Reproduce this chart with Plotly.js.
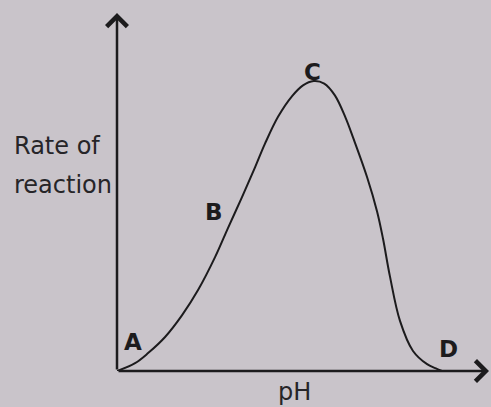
<!DOCTYPE html>
<html>
<head>
<meta charset="utf-8">
<script src="https://cdn.plot.ly/plotly-3.0.1.min.js"></script>
<style>
  html, body { margin: 0; padding: 0; background: #c9c4ca; }
  #chart { width: 491px; height: 407px; }
</style>
</head>
<body>
<div id="chart"></div>
<script>
// curve: pH (x) against rate of reaction (y, arbitrary 0-100)
const phValues = [0, 0.68, 1.17, 1.81, 2.45, 3.05, 3.69, 4.18, 4.70, 5.19, 5.57, 6.06, 6.59, 7.0, 7.4,
                  7.8, 8.2, 8.6, 8.9, 9.41, 9.79, 10.01, 10.27, 10.65, 11.14, 11.67, 12.04, 12.23];
const rateValues = [0, 2.2, 5.0, 9.5, 15.6, 22.6, 31.8, 40.0, 48.5, 56.8, 63.5, 71.0, 76.8, 79.8, 81.0,
                    80.3, 77.0, 70.8, 64.9, 54.2, 44.5, 37.0, 26.5, 14.0, 5.6, 1.9, 0.6, 0];
const pointLabels = ['A', 'B', 'C', 'D'];
const yTitleLines = ['Rate of', 'reaction'];
const xTitle = 'pH';

const xMax = 14;
const yMax = 100;
const ink = '#1c1b1d';
const font = 'DejaVu Sans, sans-serif';

// where each letter sits, in data units
const labelX = [0.6, 3.65, 7.34, 12.46];
const labelY = [8.1, 44.4, 83.5, 6.1];

function build_annotations() {
    const notes = [];

    // the two axes, drawn as arrows from the origin
    notes.push({
        x: xMax, y: 0, ax: 0, ay: 0, xref: 'x', yref: 'y', axref: 'x', ayref: 'y',
        text: '', showarrow: true, arrowhead: 4, arrowsize: 1.6, arrowwidth: 2.5, arrowcolor: ink
    });
    notes.push({
        x: 0, y: yMax, ax: 0, ay: 0, xref: 'x', yref: 'y', axref: 'x', ayref: 'y',
        text: '', showarrow: true, arrowhead: 4, arrowsize: 1.6, arrowwidth: 2.5, arrowcolor: ink
    });

    // point letters
    pointLabels.forEach(function(label, i) {
        notes.push({
            x: labelX[i], y: labelY[i], xref: 'x', yref: 'y',
            text: '<b>' + label + '</b>', showarrow: false,
            font: { family: font, size: 23, color: ink }
        });
    });

    // y title, left aligned, two lines
    const lineY = [0.628, 0.52];
    yTitleLines.forEach(function(line, i) {
        notes.push({
            x: -0.282, y: lineY[i], xref: 'paper', yref: 'paper',
            xanchor: 'left', yanchor: 'middle',
            text: line, showarrow: false,
            font: { family: font, size: 24, color: '#262528' }
        });
    });

    // x title
    notes.push({
        x: 0.478, y: -0.059, xref: 'paper', yref: 'paper',
        xanchor: 'center', yanchor: 'middle',
        text: xTitle, showarrow: false,
        font: { family: font, size: 24, color: '#262528' }
    });

    return notes;
}

const trace = {
    x: phValues,
    y: rateValues,
    type: 'scatter',
    mode: 'lines',
    line: { color: ink, width: 2, shape: 'spline', smoothing: 1 },
    hoverinfo: 'skip',
    cliponaxis: false
};

const layout = {
    width: 491,
    height: 407,
    margin: { l: 117, r: 2, t: 13, b: 36 },
    paper_bgcolor: '#c9c4ca',
    plot_bgcolor: '#c9c4ca',
    showlegend: false,
    xaxis: { range: [0, xMax], visible: false, fixedrange: true },
    yaxis: { range: [0, yMax], visible: false, fixedrange: true },
    annotations: build_annotations()
};

Plotly.newPlot('chart', [trace], layout, { displayModeBar: false, staticPlot: true });
</script>
</body>
</html>
